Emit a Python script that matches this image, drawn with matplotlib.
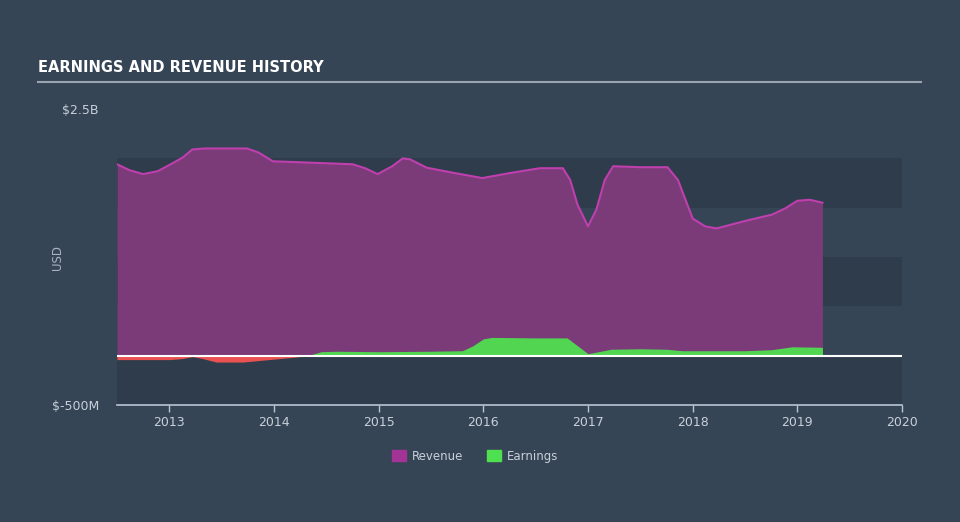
import matplotlib
matplotlib.use("Agg")
import matplotlib.pyplot as plt
from matplotlib.patches import Patch
from matplotlib.lines import Line2D

# ---- data (billions USD) ----
rev_t = [2012.50, 2012.62, 2012.75, 2012.89, 2013.03, 2013.13, 2013.22, 2013.34,
         2013.74, 2013.85, 2013.99, 2014.25, 2014.75, 2014.87, 2014.99, 2015.13,
         2015.23, 2015.30, 2015.46, 2015.73, 2015.99, 2016.25, 2016.54, 2016.76,
         2016.83, 2016.90, 2017.00, 2017.08, 2017.16, 2017.24, 2017.50, 2017.76,
         2017.86, 2018.00, 2018.12, 2018.23, 2018.52, 2018.76, 2018.88, 2019.00,
         2019.12, 2019.24]
rev_v = [1.94, 1.88, 1.84, 1.87, 1.95, 2.01, 2.09, 2.10,
         2.10, 2.06, 1.97, 1.96, 1.94, 1.90, 1.84, 1.92,
         2.00, 1.99, 1.905, 1.85, 1.80, 1.85, 1.90, 1.90,
         1.78, 1.53, 1.31, 1.48, 1.78, 1.92, 1.91, 1.91,
         1.78, 1.39, 1.31, 1.29, 1.37, 1.43, 1.49, 1.57,
         1.58, 1.55]

earn_t = [2012.50, 2012.75, 2013.00, 2013.12, 2013.22, 2013.32, 2013.45, 2013.70,
          2013.95, 2014.20, 2014.32, 2014.45, 2014.60, 2015.00, 2015.50, 2015.80,
          2015.90, 2016.00, 2016.08, 2016.50, 2016.80, 2016.90, 2017.00, 2017.10,
          2017.22, 2017.50, 2017.75, 2017.90, 2018.00, 2018.50, 2018.75, 2018.95,
          2019.24]
earn_v = [-0.04, -0.04, -0.04, -0.03, -0.01, -0.03, -0.065, -0.065,
          -0.04, -0.015, 0.0, 0.04, 0.045, 0.04, 0.045, 0.05,
          0.10, 0.17, 0.185, 0.18, 0.18, 0.10, 0.02, 0.04,
          0.065, 0.07, 0.065, 0.05, 0.05, 0.05, 0.06, 0.09,
          0.085]

x_ticks = [2013, 2014, 2015, 2016, 2017, 2018, 2019, 2020]
y_labels = {2.5: "$2.5B", -0.5: "$-500M"}

BG = "#354556"
BAND = "#2e3c4b"
REV_FILL = "#7b3a78"
REV_LINE = "#c03fae"
GREEN = "#52d651"
RED = "#ea5252"
TXT = "#c8d0d8"

fig = plt.figure(figsize=(9.6, 5.22), dpi=100, facecolor=BG)
ax = fig.add_axes([117/960, (522-405)/522, 785/960, (405-109)/522])
ax.set_facecolor(BG)
ax.set_xlim(2012.5, 2020.0)
ax.set_ylim(-0.5, 2.5)

# alternating bands
for lo in (-0.5, 0.5, 1.5):
    ax.axhspan(lo, lo + 0.5, color=BAND, lw=0, zorder=0)

# revenue
ax.fill_between(rev_t, 0, rev_v, color=REV_FILL, lw=0, zorder=2)
ax.plot(rev_t, rev_v, color=REV_LINE, lw=1.5, zorder=3, solid_joinstyle="round")

# earnings
ax.fill_between(earn_t, 0, earn_v, where=[v >= 0 for v in earn_v], interpolate=True,
                color=GREEN, lw=0, zorder=4)
ax.fill_between(earn_t, 0, earn_v, where=[v <= 0 for v in earn_v], interpolate=True,
                color=RED, lw=0, zorder=4)

ax.axhline(0, color="white", lw=1.5, zorder=5)

for s in ("top", "right", "left"):
    ax.spines[s].set_visible(False)
ax.spines["bottom"].set_color("#b8c6d4")
ax.spines["bottom"].set_linewidth(1.2)

ax.set_xticks(x_ticks)
ax.set_xticklabels([str(t) for t in x_ticks])
ax.tick_params(axis="x", colors="#b8c6d4", length=5, width=1, labelcolor=TXT,
               labelsize=9, pad=3)
ax.set_yticks(list(y_labels.keys()))
ax.set_yticklabels(list(y_labels.values()))
ax.tick_params(axis="y", length=0, labelcolor=TXT, labelsize=9, pad=13)

fig.text(57/960, 1 - 258/522, "USD", rotation=90, color="#aab4be", fontsize=8.5,
         ha="center", va="center")

# title
fig.text(38/960, 1 - 68/522, "EARNINGS AND REVENUE HISTORY",
         family=["DejaVu Sans"], fontweight="bold",
         fontsize=10.5, color="white", ha="left", va="center")
fig.add_artist(Line2D([38/960, 921/960], [1 - 82/522, 1 - 82/522],
                      color="#9aa4ae", lw=1.5, transform=fig.transFigure))

handles = [Patch(color="#a33395", label="Revenue"), Patch(color="#4fe04f", label="Earnings")]
leg = fig.legend(handles=handles, loc="center", bbox_to_anchor=(475/960, 1 - 456/522),
                 ncol=2, frameon=False, fontsize=8.5, handlelength=1.2, handleheight=1.0,
                 columnspacing=2.0, handletextpad=0.5)
for t in leg.get_texts():
    t.set_color(TXT)

fig.savefig("out.png", dpi=100, facecolor=BG)
